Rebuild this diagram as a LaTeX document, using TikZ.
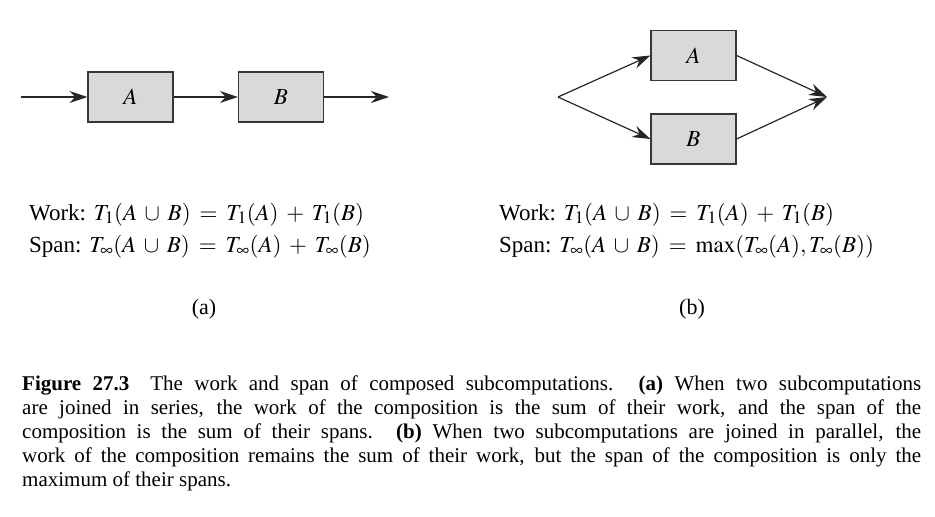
\documentclass[tikz,border=0pt]{standalone}
\usepackage{mathptmx}
\usepackage[no-math]{fontspec}
\setmainfont{Liberation Serif}
\usetikzlibrary{arrows.meta}
\DeclareMathSizes{23}{23}{17.5}{12}
\definecolor{boxfill}{RGB}{217,217,217}
\definecolor{boxline}{RGB}{55,55,55}
\begin{document}
\begin{tikzpicture}[x=1pt,y=-1pt,
  blk/.style={draw=boxline,fill=boxfill,line width=1.2pt,minimum width=85pt,minimum height=50pt,inner sep=0,font=\fontsize{23}{26}\selectfont},
  conn/.style={line width=1.2pt,draw=black!85,-{Stealth[length=18pt,width=12pt,inset=6pt]}},
  eq/.style={anchor=base west,inner sep=0,font=\fontsize{23}{26}\selectfont},
  sub/.style={anchor=base,inner sep=0,font=\fontsize{22}{26}\selectfont}]
\useasboundingbox (0,0) rectangle (935,517);
\medmuskip=6mu plus 2mu minus 2mu
\thickmuskip=7mu plus 2mu
% (a) series
\coordinate (in) at (21,97);
\node[blk] (A1) at (130.5,97) {$A$};
\node[blk] (B1) at (281,97) {$B$};
\coordinate (out) at (389,97);
\draw[conn] (in) -- (A1.west);
\draw[conn] (A1.east) -- (B1.west);
\draw[conn] (B1.east) -- (out);
% (b) parallel
\coordinate (fork) at (558,97);
\node[blk] (A2) at (693.5,55.5) {$A$};
\node[blk] (B2) at (693.5,139) {$B$};
\coordinate (join) at (827,97);
\draw[conn] (fork) -- (A2.west);
\draw[conn] (fork) -- (B2.west);
\draw[conn] (A2.east) -- (join);
\draw[conn] (B2.east) -- (join);
% formulas
\node[eq] (wa) at (29,220) {Work: $T_1(A\cup B) = T_1(A) + T_1(B)$};
\node[eq] (sa) at (29,252) {Span: $T_\infty(A\cup B) = T_\infty(A) + T_\infty(B)$};
\node[eq] (wb) at (499,220) {Work: $T_1(A\cup B) = T_1(A) + T_1(B)$};
\node[eq] (sb) at (499,252) {Span: $T_\infty(A\cup B) = \max(T_\infty(A), T_\infty(B))$};
\node[sub] (la) at (204,314) {(a)};
\node[sub] (lb) at (692,314) {(b)};
% caption
\node[anchor=north west,inner sep=0,text width=899pt,align=justify,font=\fontsize{21}{24}\selectfont] (cap) at (22,376)
{\textbf{Figure 27.3}\quad The work and span of composed subcomputations. \textbf{(a)} When two subcomputations\linebreak are joined in series, the work of the composition is the sum of their work, and the span of the\linebreak composition is the sum of their spans. \textbf{(b)} When two subcomputations are joined in parallel, the\linebreak work of the composition remains the sum of their work, but the span of the composition is only the\linebreak maximum of their spans.};
\end{tikzpicture}
\end{document}
